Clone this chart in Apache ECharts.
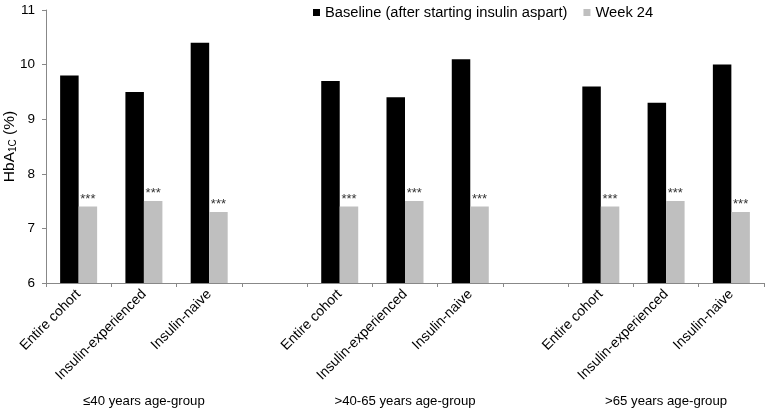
<!DOCTYPE html>
<html><head><meta charset="utf-8">
<script src="https://cdn.jsdelivr.net/npm/echarts@6/dist/echarts.min.js"></script>
<style>html,body{margin:0;padding:0;background:#fff}#c{width:765px;height:411px}</style>
</head><body><div id="c"></div>
<script>
const categories = ['Entire cohort','Insulin-experienced','Insulin-naive','', 'Entire cohort','Insulin-experienced','Insulin-naive','', 'Entire cohort','Insulin-experienced','Insulin-naive'];
const groupLabels = ['', '≤40 years age-group', '', '', '', '>40-65 years age-group', '', '', '', '>65 years age-group', ''];
const baseline = [9.8, 9.5, 10.4, null, 9.7, 9.4, 10.1, null, 9.6, 9.3, 10.0];
const week24 = [7.4, 7.5, 7.3, null, 7.4, 7.5, 7.4, null, 7.4, 7.5, 7.3];
const yTicks = [6, 7, 8, 9, 10, 11];
const font = 'Liberation Sans, Arial, sans-serif';
const chart = echarts.init(document.getElementById('c'));
chart.setOption({
  animation: false,
  textStyle: {fontFamily: font},
  legend: {
    left: 308, top: 0, itemWidth: 7, itemHeight: 7, itemGap: 16, icon: 'rect',
    textStyle: {fontSize: 14.7, color: '#000', fontFamily: font},
    data: ['Baseline (after starting insulin aspart)', 'Week 24']
  },
  grid: {left: 46, right: 1, top: 10, bottom: 128, containLabel: false, outerBoundsMode: 'none'},
  xAxis: [{
    type: 'category', data: categories,
    axisLine: {lineStyle: {color: '#888'}},
    axisTick: {show: true, interval: 0, length: 4, lineStyle: {color: '#888'}},
    axisLabel: {interval: 0, rotate: 45, fontSize: 14, color: '#000', margin: 9, fontFamily: font}
  }, {
    type: 'category', data: groupLabels, position: 'bottom',
    axisLine: {show: false}, axisTick: {show: false},
    axisLabel: {interval: 0, fontSize: 13.2, color: '#000', margin: 112, fontFamily: font}
  }],
  yAxis: {
    type: 'value', min: yTicks[0], max: yTicks[yTicks.length - 1], interval: 1,
    name: '{a|HbA}{b|1C}{a| (%)}', nameLocation: 'middle', nameRotate: 90, nameGap: 28,
    nameMoveOverlap: false,
    nameTextStyle: {rich: {
      a: {fontSize: 15.5, color: '#000', fontFamily: font},
      b: {fontSize: 10, color: '#000', fontFamily: font, verticalAlign: 'bottom', padding: [5, 0, 0, 0]}
    }},
    splitLine: {show: false},
    axisLine: {show: true, lineStyle: {color: '#888'}},
    axisTick: {show: true, length: 4, lineStyle: {color: '#888'}},
    axisLabel: {fontSize: 13.5, color: '#000', margin: 11, fontFamily: font}
  },
  series: [{
    name: 'Baseline (after starting insulin aspart)', type: 'bar', data: baseline,
    barWidth: 18.5, barGap: '0%', itemStyle: {color: '#000'}
  }, {
    name: 'Week 24', type: 'bar', data: week24,
    barWidth: 18.5, itemStyle: {color: '#bfbfbf'},
    label: {show: true, position: 'top', formatter: '***', fontSize: 13, color: '#333', distance: 1}
  }]
});
</script></body></html>
